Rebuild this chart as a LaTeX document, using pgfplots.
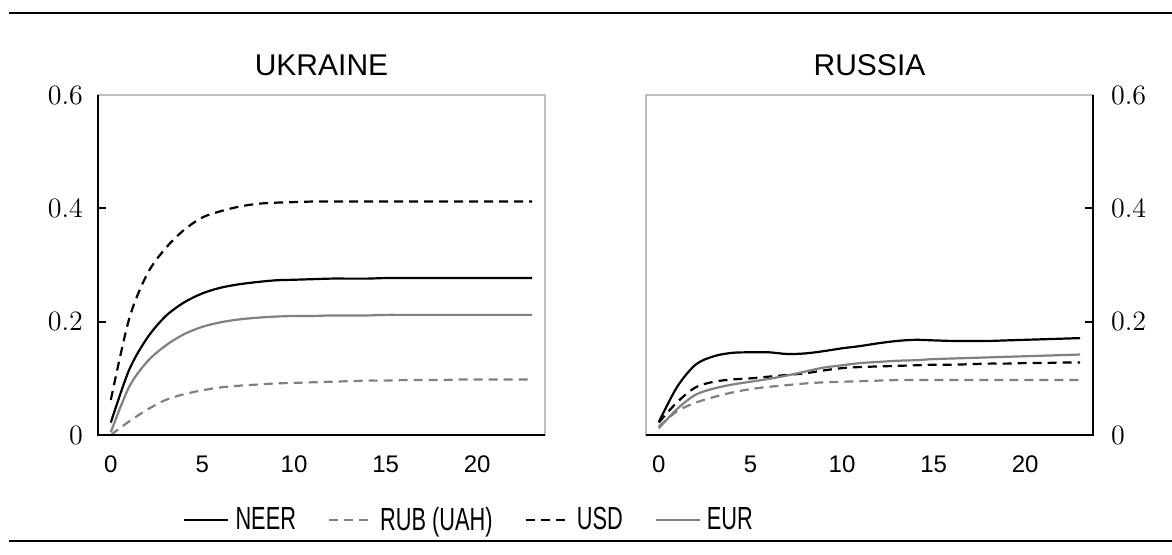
\documentclass[border=0pt]{standalone}
\usepackage{fontspec}
\usepackage{graphicx}
\usepackage{pgfplots}
\pgfplotsset{compat=1.18}
\newfontfamily\sansfont{Liberation Sans}
\newfontfamily\legendfont[Scale=1.6]{Liberation Sans}
\newcommand{\leg}[1]{\scalebox{0.68}[1]{\legendfont #1}}
\definecolor{lgray}{HTML}{808080}
\definecolor{fgray}{HTML}{BFBFBF}

\pgfplotstableread{
x neer rub usd eur
0 0.022 0.000 0.062 0.005
1 0.115 0.024 0.205 0.085
2 0.172 0.045 0.285 0.130
3 0.210 0.062 0.330 0.158
4 0.234 0.072 0.362 0.178
5 0.250 0.079 0.384 0.191
6 0.260 0.084 0.395 0.199
7 0.266 0.087 0.403 0.204
8 0.270 0.089 0.408 0.207
9 0.273 0.091 0.410 0.209
10 0.274 0.092 0.411 0.210
11 0.275 0.093 0.412 0.210
12 0.276 0.094 0.412 0.211
13 0.276 0.095 0.412 0.211
14 0.276 0.096 0.412 0.211
15 0.277 0.096 0.412 0.212
16 0.277 0.097 0.412 0.212
17 0.277 0.097 0.412 0.212
18 0.277 0.097 0.412 0.212
19 0.277 0.098 0.412 0.212
20 0.277 0.098 0.412 0.212
21 0.277 0.098 0.412 0.212
22 0.277 0.098 0.412 0.212
23 0.277 0.098 0.412 0.212
}\ukr

\pgfplotstableread{
x neer rub usd eur
0 0.023 0.015 0.022 0.012
1 0.085 0.042 0.058 0.046
2 0.124 0.057 0.084 0.071
3 0.139 0.067 0.094 0.082
4 0.145 0.075 0.098 0.089
5 0.146 0.081 0.100 0.094
6 0.146 0.085 0.103 0.099
7 0.143 0.088 0.106 0.105
8 0.144 0.091 0.109 0.112
9 0.148 0.093 0.114 0.119
10 0.153 0.094 0.118 0.123
11 0.157 0.095 0.120 0.127
12 0.162 0.096 0.121 0.129
13 0.166 0.097 0.122 0.131
14 0.168 0.097 0.123 0.132
15 0.167 0.097 0.124 0.134
16 0.166 0.097 0.124 0.135
17 0.166 0.097 0.125 0.136
18 0.166 0.097 0.126 0.137
19 0.167 0.097 0.126 0.138
20 0.168 0.097 0.127 0.139
21 0.169 0.097 0.127 0.140
22 0.170 0.097 0.128 0.141
23 0.171 0.097 0.128 0.142
}\rus

\pgfplotsset{
  panel/.style={
    scale only axis, width=223.5pt, height=170pt,
    xmin=-0.7, xmax=23.7, ymin=0, ymax=0.6,
    xtick={0,5,10,15,20}, xticklabels={0,5,10,15,20},
    ytick={0,0.2,0.4,0.6}, yticklabels={0,0.2,0.4,0.6},
    axis line style={fgray, line width=0.7pt},
    xtick style={draw=none},
    ytick style={black, line width=1pt},
    tick align=inside, major tick length=4pt,
    xticklabel style={font=\sansfont\fontsize{12}{13}\selectfont, yshift=-7pt},
    yticklabel style={font=\fontsize{14}{15}\selectfont},
    clip mode=individual,
  },
  sneer/.style={black, line width=1.1pt, smooth},
  srub/.style={lgray, line width=1.1pt, dash pattern=on 4.5pt off 3pt, smooth},
  susd/.style={black, line width=1.1pt, dash pattern=on 4.5pt off 3pt, smooth},
  seur/.style={lgray, line width=1.1pt, smooth},
}

\begin{document}
\begin{tikzpicture}
\useasboundingbox (0pt,0pt) rectangle (586pt,277pt);
\draw[line width=1.2pt] (4.5pt,270.6pt) -- (586pt,270.6pt);
\draw[line width=1.2pt] (4.5pt,6.5pt) -- (586pt,6.5pt);

\begin{axis}[panel, at={(49pt,59.5pt)}, anchor=south west,
  ytick pos=left,
  yticklabel style={xshift=-4pt},
  legend columns=4,
  legend style={at={(axis description cs:0.19,-0.25)}, anchor=west,
    draw=none, fill=none, inner sep=0pt,
    nodes={inner sep=0pt},
    /tikz/every even column/.append style={column sep=16pt}},
  legend image code/.code={\draw[#1] (0pt,0pt) -- (22pt,0pt); \path (25pt,0pt);},
]
\addplot[sneer] table[x=x,y=neer] {\ukr};
\addlegendentry{\leg{NEER}}
\addplot[srub] table[x=x,y=rub] {\ukr};
\addlegendentry{\leg{RUB (UAH)}}
\addplot[susd] table[x=x,y=usd] {\ukr};
\addlegendentry{\leg{USD}}
\addplot[seur] table[x=x,y=eur] {\ukr};
\addlegendentry{\leg{EUR}}
\draw[black, line width=1pt] (rel axis cs:0,1) -- (rel axis cs:0,0) -- (rel axis cs:1,0);
\node[font=\sansfont\fontsize{15}{16}\selectfont, anchor=base, yshift=10pt] at (rel axis cs:0.5,1) {UKRAINE};
\end{axis}

\begin{axis}[panel, at={(323pt,59.5pt)}, anchor=south west,
  ytick pos=right,
  yticklabel style={xshift=5.5pt},
]
\addplot[sneer] table[x=x,y=neer] {\rus};
\addplot[srub] table[x=x,y=rub] {\rus};
\addplot[susd] table[x=x,y=usd] {\rus};
\addplot[seur] table[x=x,y=eur] {\rus};
\draw[black, line width=1pt] (rel axis cs:1,1) -- (rel axis cs:1,0) -- (rel axis cs:0,0);
\node[font=\sansfont\fontsize{15}{16}\selectfont, anchor=base, yshift=10pt] at (rel axis cs:0.5,1) {RUSSIA};
\end{axis}
\end{tikzpicture}
\end{document}
